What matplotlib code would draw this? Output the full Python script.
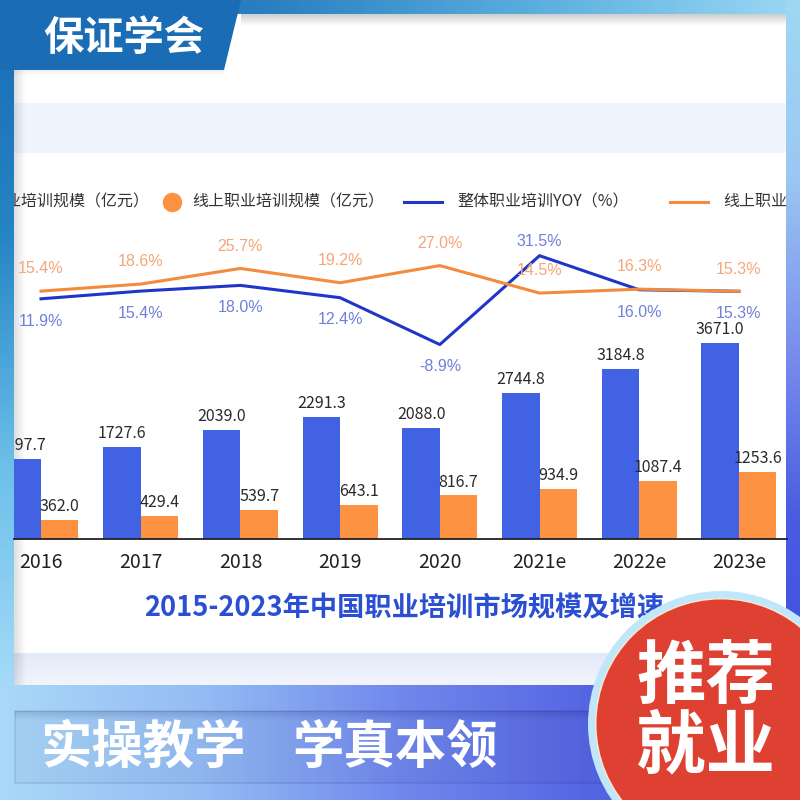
import numpy as np
import matplotlib
matplotlib.use('Agg')
import matplotlib.pyplot as plt
from matplotlib.colors import LinearSegmentedColormap
from matplotlib.patches import Polygon, Rectangle, Circle

plt.rcParams['font.family'] = ['Noto Sans CJK SC', 'DejaVu Sans']

# ---------------- data ----------------
years = ['2016', '2017', '2018', '2019', '2020', '2021e', '2022e', '2023e']
total_size = [1497.7, 1727.6, 2039.0, 2291.3, 2088.0, 2744.8, 3184.8, 3671.0]
online_size = [362.0, 429.4, 539.7, 643.1, 816.7, 934.9, 1087.4, 1253.6]
total_yoy = [11.9, 15.4, 18.0, 12.4, -8.9, 31.5, 16.0, 15.3]
online_yoy = [15.4, 18.6, 25.7, 19.2, 27.0, 14.5, 16.3, 15.3]
legend_labels = ['整体职业培训规模（亿元）', '线上职业培训规模（亿元）',
                 '整体职业培训YOY（%）', '线上职业培训YOY（%）']
chart_title = '2015-2023年中国职业培训市场规模及增速'
tab_text = '保证学会'
banner_left = '实操教学'
banner_right = '学真本领'
badge_lines = ['推荐', '就业']

# ---------------- colours ----------------
C_BLUE_BAR = '#4262e4'
C_ORANGE_BAR = '#fd9242'
C_BLUE_LINE = '#1f36c8'
C_ORANGE_LINE = '#f38a3c'
C_BLUE_LBL = '#6f80d8'
C_ORANGE_LBL = '#f4a67a'

fig = plt.figure(figsize=(8, 8), dpi=100)
fig.patch.set_facecolor('white')

# background axes in pixel coordinates (y downwards)
bg = fig.add_axes([0, 0, 1, 1], zorder=0)
bg.set_axis_off()


def grad(ax, x0, x1, y0, y1, colors, vertical=False, z=0):
    cmap = LinearSegmentedColormap.from_list('g', colors)
    arr = np.linspace(0, 1, 256)
    arr = arr[:, None] if vertical else arr[None, :]
    ax.imshow(arr, cmap=cmap, extent=(x0, x1, y1, y0), origin='upper',
              aspect='auto', interpolation='bicubic', zorder=z)


# frame gradients
grad(bg, 0, 800, 0, 14, ['#1a6cb4', '#2a7fc0', '#5aaede', '#9ad8f3'])
grad(bg, 0, 14, 0, 700, ['#1a6cb4', '#2584c4', '#6cc0ea', '#a8dcf8'], vertical=True)
grad(bg, 786, 800, 0, 690, ['#9ed8f2', '#9cc8f4', '#7a90ec', '#4a5ce2', '#3f4fe0'],
     vertical=True)
# panel
bg.add_patch(Rectangle((14, 14), 772, 671, facecolor='white', edgecolor='none', zorder=1))
bg.add_patch(Rectangle((14, 103), 772, 50, facecolor='#eff4fd', edgecolor='none', zorder=1))
grad(bg, 14, 786, 653, 685, ['#e2e9fa', '#f3f5fc'], vertical=True, z=1)
# shadows
grad(bg, 241, 786, 14, 26, [(0, 0, 0, 0.20), (0, 0, 0, 0.0)], vertical=True, z=2)
grad(bg, 14, 26, 70, 685, [(0, 0, 0, 0.13), (0, 0, 0, 0.0)], z=2)
grad(bg, 14, 224, 70, 76, [(0, 0, 0, 0.06), (0, 0, 0, 0.0)], vertical=True, z=2)
# tab
bg.add_patch(Polygon([(0, 0), (241, 0), (224, 70), (0, 70)], closed=True,
                     facecolor='#1a6cb4', edgecolor='none', zorder=3))
bg.text(124, 38, tab_text, color='white', fontsize=29, fontweight='bold',
        ha='center', va='center', zorder=4)
# bottom banner
grad(bg, 0, 800, 685, 800, ['#aad8f8', '#94bcf4', '#7088ec', '#5464e2', '#4a56e0'], z=1)
bg.add_patch(Rectangle((15, 711), 610, 72, facecolor=(0, 0, 0.2, 0.03),
                       edgecolor=(0, 0, 0.3, 0.10), lw=1.2, zorder=2))
grad(bg, 15, 625, 711, 720, [(0, 0, 0.25, 0.14), (0, 0, 0.25, 0.0)], vertical=True, z=2)
# chart title (under the badge)
bg.text(144, 608, chart_title, color='#2b4fd2', fontsize=19.6, fontweight='bold',
        ha='left', va='center', zorder=4)
bg.set_xlim(0, 800)
bg.set_ylim(800, 0)

# ---------------- chart ----------------
PX = 1 / 800.0
ax = fig.add_axes([14 * PX, 1 - 539 * PX, 773 * PX, 359 * PX])
ax.set_zorder(2)
ax.patch.set_visible(False)
x = np.arange(len(years))
w = 0.376
ax.bar(x - w / 2, total_size, w, color=C_BLUE_BAR, zorder=2)
ax.bar(x + w / 2, online_size, w, color=C_ORANGE_BAR, zorder=2)
for xi, v in zip(x, total_size):
    ax.annotate(f'{v:.1f}', (xi - w / 2, v), xytext=(0, 3.5), textcoords='offset points',
                ha='center', va='bottom', fontsize=11.5, color='#2a2a2a', annotation_clip=False,
                clip_on=True)
for xi, v in zip(x, online_size):
    ax.annotate(f'{v:.1f}', (xi + w / 2, v), xytext=(0, 3.5), textcoords='offset points',
                ha='center', va='bottom', fontsize=11.5, color='#2a2a2a', clip_on=True)
ax.set_xlim(-0.2708, 7.482)
ax.set_ylim(0, 6735)
for s in ['top', 'left', 'right']:
    ax.spines[s].set_visible(False)
ax.spines['bottom'].set_color('#222222')
ax.spines['bottom'].set_linewidth(1.3)
ax.set_yticks([])
ax.set_xticks(x)
ax.set_xticklabels(years, fontsize=14, color='#222222')
ax.tick_params(axis='x', length=0, pad=9)

ax2 = ax.twinx()
ax2.set_zorder(3)
ax2.patch.set_visible(False)
ax2.set_ylim(-97.27, 65.9)
ax2.set_xlim(ax.get_xlim())
for s in ax2.spines.values():
    s.set_visible(False)
ax2.set_yticks([])
ax2.plot(x, total_yoy, color=C_BLUE_LINE, lw=2.2, zorder=3)
ax2.plot(x, online_yoy, color=C_ORANGE_LINE, lw=2.2, zorder=4)
for xi, v in zip(x, online_yoy):
    ax2.annotate(f'{v:.1f}%', (xi, v), xytext=(0, 16), textcoords='offset points',
                 ha='center', va='center', fontsize=11.5, color=C_ORANGE_LBL,
                 family=['Liberation Sans', 'DejaVu Sans'], clip_on=True)
for xi, v in zip(x, total_yoy):
    dy = 10 if v == max(total_yoy) else -16
    ax2.annotate(f'{v:.1f}%', (xi, v), xytext=(0, dy), textcoords='offset points',
                 ha='center', va='center', fontsize=11.5, color=C_BLUE_LBL,
                 family=['Liberation Sans', 'DejaVu Sans'], clip_on=True)

# legend (manual, clipped by the axes like the cropped original)
ly = (539 - 202) / 359.0


def fx(px):
    return (px - 14) / 773.0


ax2.plot([fx(-63)], [ly], marker='o', ms=13, color=C_BLUE_BAR, transform=ax2.transAxes,
         clip_on=True)
ax2.plot([fx(172)], [ly], marker='o', ms=13, color=C_ORANGE_BAR, transform=ax2.transAxes,
         clip_on=True)
ax2.plot([fx(404), fx(442)], [ly, ly], color=C_BLUE_LINE, lw=2.2, transform=ax2.transAxes,
         clip_on=True)
ax2.plot([fx(670), fx(708)], [ly, ly], color=C_ORANGE_LINE, lw=2.2,
         transform=ax2.transAxes, clip_on=True)
for px, lab in zip([-43, 192, 457, 723], legend_labels):
    ax2.text(fx(px), ly, lab, transform=ax2.transAxes, ha='left', va='center',
             fontsize=11.5, color='#333333', clip_on=True)

# ---------------- overlay: badge + banner text ----------------
ov = fig.add_axes([0, 0, 1, 1], zorder=5)
ov.set_axis_off()
ov.patch.set_visible(False)
ov.set_xlim(0, 800)
ov.set_ylim(800, 0)
ov.add_patch(Circle((721, 724), 133, facecolor='#bfe7f9', edgecolor='none'))
ov.add_patch(Circle((721, 724), 126, facecolor='#f6e9cf', edgecolor='none'))
ov.add_patch(Circle((721, 724), 124.5, facecolor='#de4132', edgecolor='none'))
ov.text(706, 678, badge_lines[0], color='white', fontsize=50, fontweight='black',
        ha='center', va='center')
ov.text(706, 747, badge_lines[1], color='white', fontsize=50, fontweight='black',
        ha='center', va='center')
ov.text(143.5, 747, banner_left, color='white', fontsize=37, fontweight='black',
        ha='center', va='center')
ov.text(394.5, 747, banner_right, color='white', fontsize=37, fontweight='black',
        ha='center', va='center')

fig.savefig('out.png', dpi=100)
